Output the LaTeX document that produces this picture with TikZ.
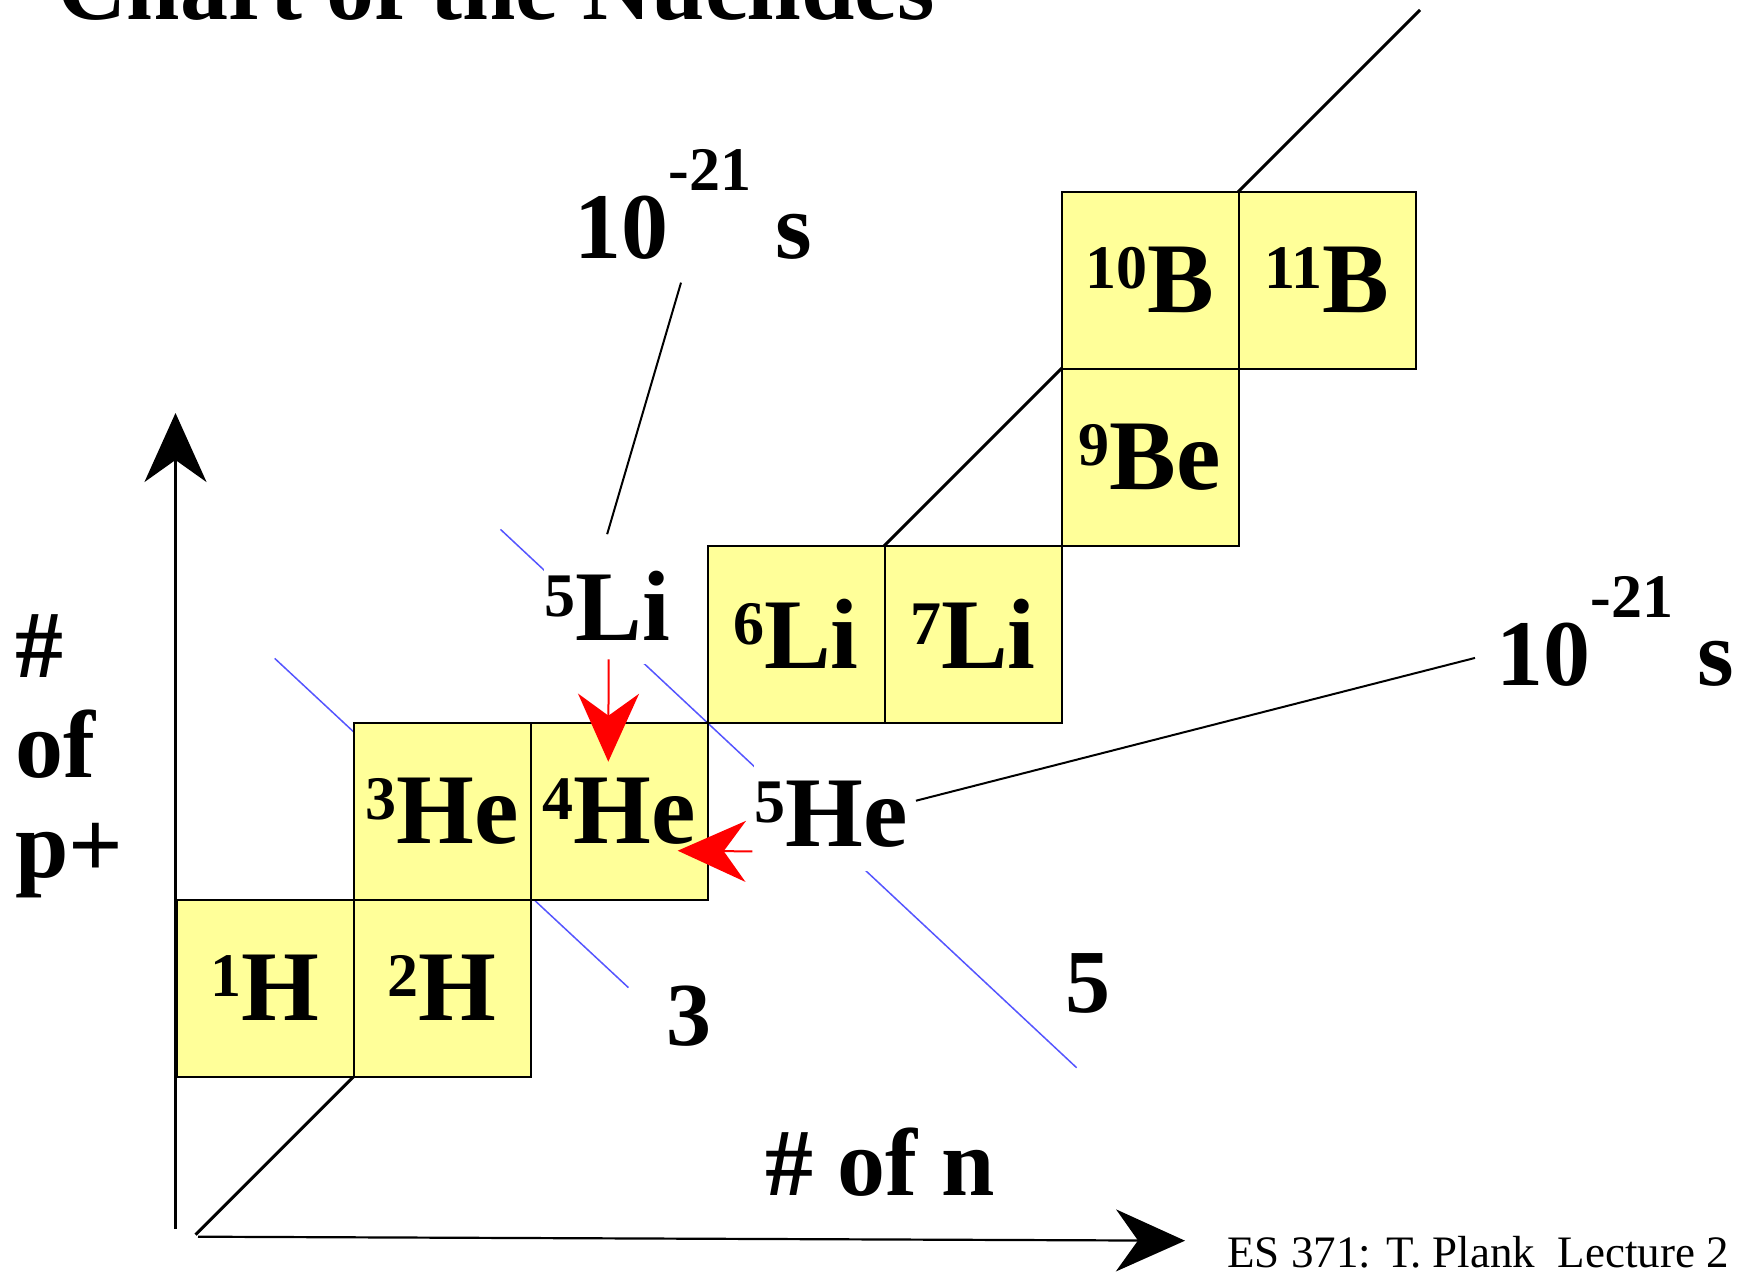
\documentclass[tikz,border=0pt]{standalone}
\usepackage{fontspec}
\setmainfont{Liberation Serif}
\usetikzlibrary{arrows.meta, positioning}
\definecolor{nucyellow}{RGB}{255, 255, 153}
\definecolor{isoblue}{RGB}{85, 85, 255}
\newcommand{\iso}[2]{\raisebox{12pt}{\fontsize{31}{31}\selectfont #1}#2}
\newcommand{\lifetime}{10\raisebox{34pt}{\fontsize{31}{31}\selectfont -21}\hspace{12pt}s}

\begin{document}
\begin{tikzpicture}[
    x=0.5pt, y=-0.5pt,
    nuc/.style={draw=black, line width=1pt, fill=nucyellow, minimum size=88.5pt,
      inner sep=0pt, outer sep=0pt, font=\bfseries\fontsize{50}{50}\selectfont},
    unstable/.style={fill=white, inner xsep=0pt, inner ysep=12pt, anchor=base west,
      font=\bfseries\fontsize{50}{50}\selectfont},
    lbl/.style={inner sep=0pt, font=\bfseries\fontsize{48}{50}\selectfont},
    massno/.style={inner sep=0pt, anchor=base, font=\bfseries\fontsize{45}{45}\selectfont},
    tau/.style={inner sep=0pt, anchor=base west, font=\bfseries\fontsize{47}{47}\selectfont},
    isobar/.style={draw=isoblue, line width=0.75pt},
    leader/.style={draw=black, line width=1pt},
    axis/.style={draw=black, line width=1.1pt, -{Stealth[length=34.5pt, width=31pt, inset=11pt]}},
    decay/.style={draw=red, line width=1pt, -{Stealth[length=34pt, width=30.5pt, inset=11pt]}},
  ]
  \clip (0,0) rectangle (1744,1272);

  \coordinate (i3a) at (274.7,658.4);
  \coordinate (i3b) at (628.4,987.6);
  \coordinate (i5a) at (500.5,529.4);
  \coordinate (i5b) at (1076.6,1067.7);
  \draw[isobar] (i3a) -- (i3b);
  \draw[isobar] (i5a) -- (i5b);

  \coordinate (nz0) at (195.5,1234.7);
  \coordinate (nz1) at (1420,10);
  \draw[line width=1.5pt] (nz0) -- (nz1);

  \coordinate (yaxis0) at (175.5,1229);
  \coordinate (ytip) at (175.5,413);
  \coordinate (xaxis0) at (198,1236.7);
  \coordinate (xtip) at (1185,1240.7);
  \draw[axis] (yaxis0) -- (ytip);
  \draw[axis] (xaxis0) -- (xtip);

  \node[nuc] (h1) at (265,988.2) {\iso{1}{H}};
  \node[nuc, right=0pt of h1] (h2) {\iso{2}{H}};
  \node[nuc, above=0pt of h2] (he3) {\iso{3}{He}};
  \node[nuc, right=0pt of he3] (he4) {\iso{4}{He}};
  \node[nuc, above right=0pt of he4] (li6) {\iso{6}{Li}};
  \node[nuc, right=0pt of li6] (li7) {\iso{7}{Li}};
  \node[nuc, above right=0pt of li7] (be9) {\iso{9}{Be}};
  \node[nuc, above=0pt of be9] (b10) {\iso{10}{B}};
  \node[nuc, right=0pt of b10] (b11) {\iso{11}{B}};

  \node[unstable] (li5) at (544,640) {\iso{5}{Li}};
  \node[unstable] (he5) at (754,846) {\iso{5}{He}};

  \node[massno] (a3) at (688.5,1045.5) {3};
  \node[massno] (a5) at (1088,1012) {5};

  \node[tau] (tau1) at (574,258.3) {\lifetime};
  \node[tau] (tau2) at (1496,685) {\lifetime};

  \node[lbl, anchor=base west] (title) at (57,20) {Chart of the Nuclides};
  \node[lbl, anchor=base west] (xlabel) at (765,1195) {\# of n};
  \node[lbl, anchor=base west, align=left] (ylabel) at (15,877) {\#\\of\\p+};
  \node[inner sep=0pt, anchor=base west, font=\fontsize{22.5}{22.5}\selectfont] (credit)
    at (1227,1267) {ES 371: T. Plank~~Lecture 2};

  \draw[leader] ([yshift=6pt]li5.north) -- ([xshift=-6pt,yshift=-11.5pt]tau1.south);
  \draw[leader] ([xshift=4pt,yshift=6.5pt]he5.east) -- ([xshift=-10.5pt,yshift=-13.5pt]tau2.west);

  \draw[decay] ([xshift=0.75pt,yshift=2.5pt]li5.south) -- ([xshift=-5.35pt,yshift=-19.5pt]he4.north);
  \draw[decay] ([xshift=-0.85pt,yshift=-18.85pt]he5.west) -- ([xshift=-14.9pt,yshift=-19.75pt]he4.east);
\end{tikzpicture}
\end{document}
